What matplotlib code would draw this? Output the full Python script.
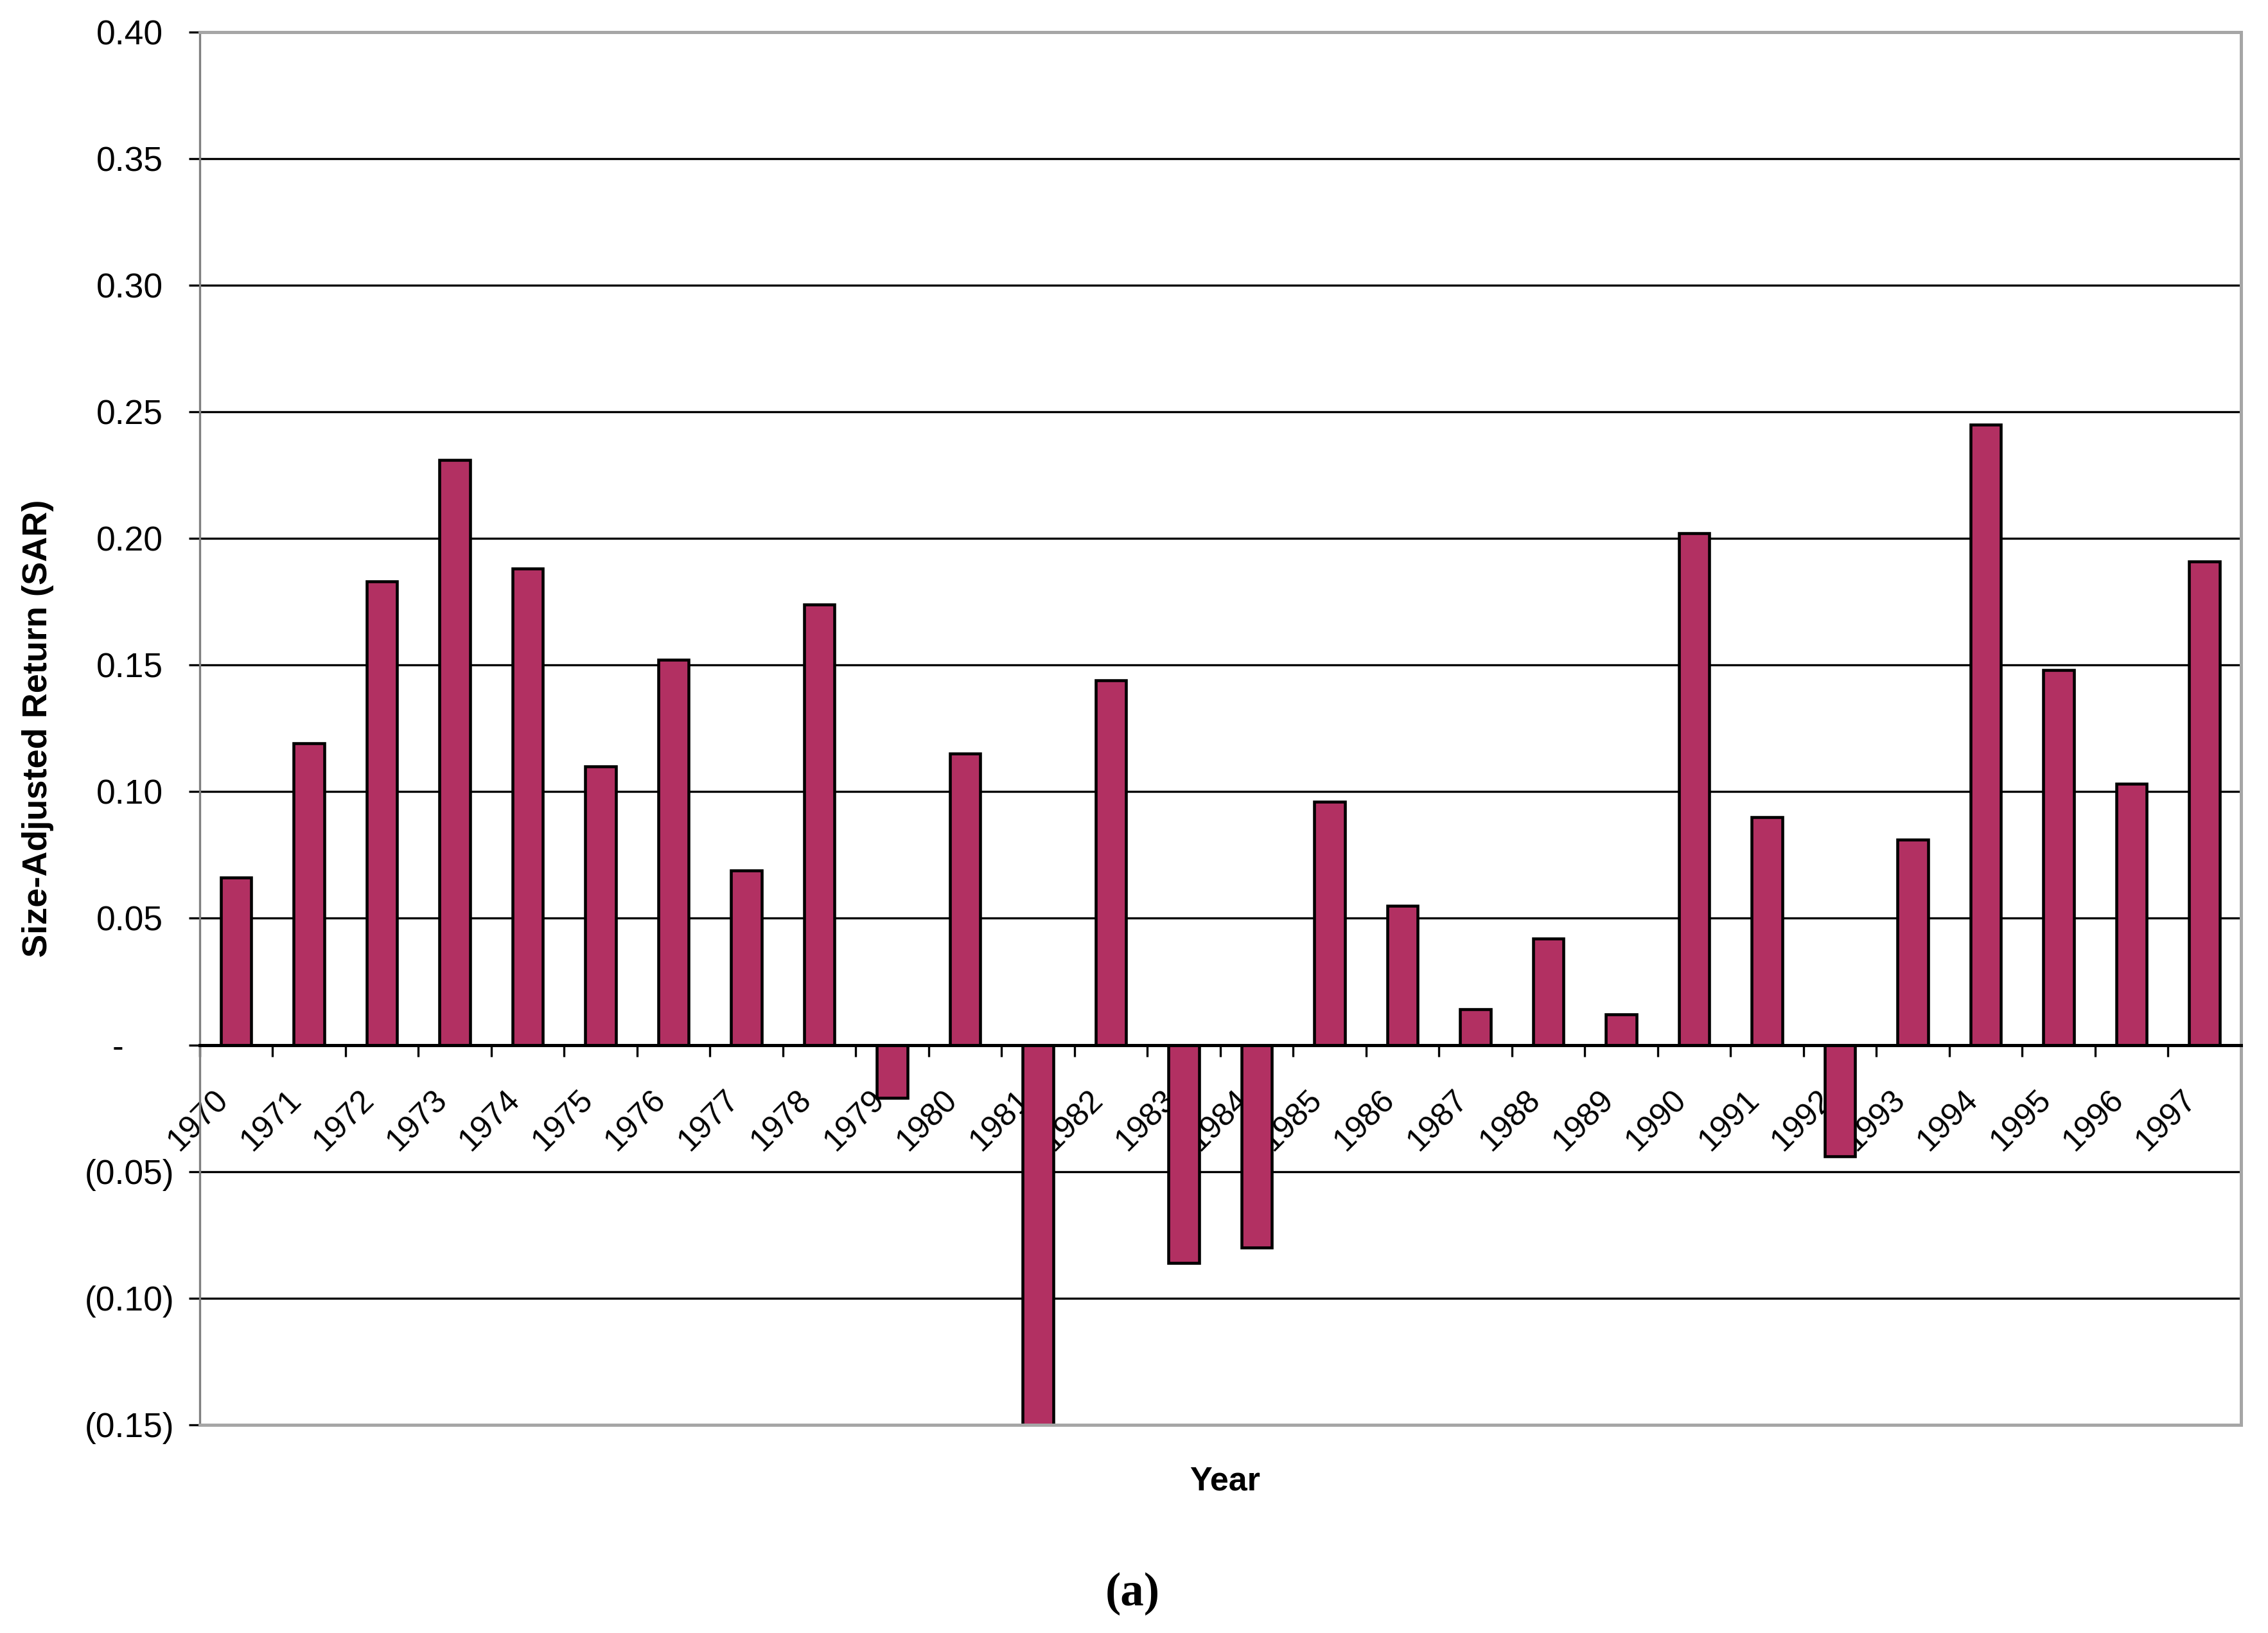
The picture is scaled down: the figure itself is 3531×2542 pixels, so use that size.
import numpy as np
from matplotlib import pyplot as plt
from matplotlib.transforms import ScaledTranslation

years = [str(y) for y in range(1970, 1998)]
sar = [0.066, 0.119, 0.183, 0.231, 0.188, 0.110, 0.152, 0.069, 0.174, -0.021,
       0.115, -0.160, 0.144, -0.086, -0.080, 0.096, 0.055, 0.014, 0.042, 0.012,
       0.202, 0.090, -0.044, 0.081, 0.245, 0.148, 0.103, 0.191]
ytick_vals = [-0.15, -0.10, -0.05, 0.0, 0.05, 0.10, 0.15, 0.20, 0.25, 0.30, 0.35, 0.40]
ytick_text = ["(0.15)", "(0.10)", "(0.05)", "-", "0.05", "0.10", "0.15",
              "0.20", "0.25", "0.30", "0.35", "0.40"]

plt.rcParams['font.family'] = ['Liberation Sans', 'DejaVu Sans']

fig = plt.figure(figsize=(3531 / 300, 2542 / 300), dpi=300)
ax = fig.add_axes([0.088, 0.1275, 0.9, 0.853])

x = np.arange(len(years))
ax.bar(x, sar, width=0.42, color='#B23062', edgecolor='black', linewidth=1.1, zorder=2)

ax.set_xlim(-0.5, len(years) - 0.5)
ax.set_ylim(-0.15, 0.40)

# gridlines by hand so the tick labels can sit above the bars
for v in ytick_vals:
    if -0.15 < v < 0.40 and v != 0:
        ax.axhline(v, color='black', linewidth=0.8, zorder=0.5)

# y axis
fs = 12.8
ax.set_yticks(ytick_vals)
ax.set_yticklabels(ytick_text, fontsize=fs)
ax.tick_params(axis='y', direction='out', length=4, width=0.8, pad=5.4)
for lab in ax.get_yticklabels():
    t = lab.get_text()
    if t == "-":
        dx = -19.0
    elif t.startswith("("):
        dx = 0.0
    else:
        dx = -0.333 * fs
    lab.set_transform(lab.get_transform() + ScaledTranslation(dx / 72, 0, fig.dpi_scale_trans))

# x axis on zero line
ax.spines['bottom'].set_position(('data', 0))
ax.spines['bottom'].set_color('black')
ax.spines['bottom'].set_linewidth(1.2)
ax.set_xticks(x)
ax.set_xticks(np.arange(-0.5, len(years), 1), minor=True)
ax.set_xticklabels(years, fontsize=12, rotation=45, ha='right', va='top', rotation_mode='anchor')
ax.tick_params(axis='x', which='major', length=0, pad=15)
ax.tick_params(axis='x', which='minor', direction='out', length=4.4, width=0.8)
for lab in ax.get_xticklabels():
    lab.set_transform(lab.get_transform() + ScaledTranslation(-8.6 / 72, 0, fig.dpi_scale_trans))

# frame
for s in ['top', 'right']:
    ax.spines[s].set_color('#A6A6A6')
    ax.spines[s].set_linewidth(1.2)
ax.spines['left'].set_color('#808080')
ax.spines['left'].set_linewidth(0.8)
ax.axhline(-0.15, color='#A6A6A6', linewidth=1.2, zorder=5, clip_on=False)

ax.set_ylabel("Size-Adjusted Return (SAR)", fontsize=13, fontweight='bold', va='center')
ax.yaxis.set_label_coords(-0.0793, 0.5)
ax.set_xlabel("Year", fontsize=12.5, fontweight='bold')
ax.xaxis.set_label_coords(0.5025, -0.0405)
ax.xaxis.label.set_va('center')

fig.text(0.4994, 0.024, "(a)", fontsize=17.5, fontweight='bold',
         family=['Liberation Serif', 'DejaVu Serif'], ha='center', va='center')

fig.savefig("out.png", dpi=300)
